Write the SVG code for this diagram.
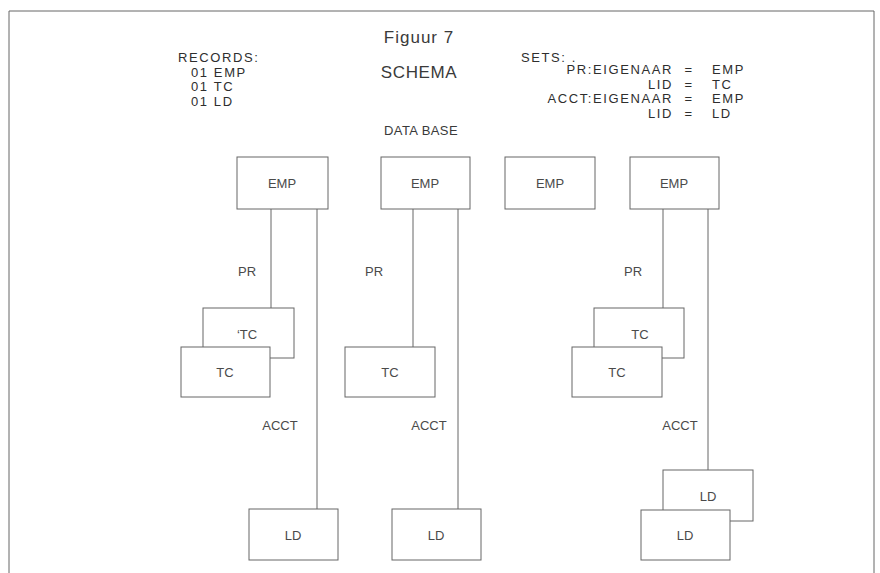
<svg xmlns="http://www.w3.org/2000/svg" width="880" height="573" viewBox="0 0 880 573">
<style>
text{font-family:"Liberation Sans",Arial,sans-serif;fill:#3a3a3a}
.t{font-size:13px}
.h{font-size:13px;letter-spacing:1.6px;fill:#2e2e2e}
.c{text-anchor:middle}
.r{text-anchor:end}
.box{fill:#fff;stroke:#666;stroke-width:1}
.ln{stroke:#666;stroke-width:1;fill:none}
.bl{fill:#4a4a4a}
</style>
<rect width="880" height="573" fill="#fff"/>
<path class="ln" d="M9,580 V11 H874 V580" stroke-width="1.5"/>
<g id="header">
<text x="419" y="43" class="c" font-size="17" letter-spacing="1">Figuur 7</text>
<text x="419" y="78" class="c" font-size="17" letter-spacing="0.6">SCHEMA</text>
<text x="421" y="135" class="c t" letter-spacing="0.4">DATA BASE</text>
<text x="178" y="62" class="h">RECORDS:</text>
<text x="191" y="76.5" class="h">01 EMP</text>
<text x="191" y="91" class="h">01 TC</text>
<text x="191" y="105.5" class="h">01 LD</text>
<text x="521" y="62" class="h">SETS: .</text>
<text x="673" y="74" class="h r">PR:EIGENAAR</text>
<text x="689" y="74" class="h c">=</text>
<text x="712" y="74" class="h">EMP</text>
<text x="673" y="88.5" class="h r">LID</text>
<text x="689" y="88.5" class="h c">=</text>
<text x="712" y="88.5" class="h">TC</text>
<text x="673" y="103" class="h r">ACCT:EIGENAAR</text>
<text x="689" y="103" class="h c">=</text>
<text x="712" y="103" class="h">EMP</text>
<text x="673" y="117.5" class="h r">LID</text>
<text x="689" y="117.5" class="h c">=</text>
<text x="712" y="117.5" class="h">LD</text>
</g>
<g id="connectors">
<line class="ln" x1="271" y1="209" x2="271" y2="308"/>
<line class="ln" x1="317" y1="209" x2="317" y2="509"/>
<line class="ln" x1="413" y1="209" x2="413" y2="347"/>
<line class="ln" x1="458" y1="209" x2="458" y2="509"/>
<line class="ln" x1="663" y1="209" x2="663" y2="308"/>
<line class="ln" x1="708" y1="209" x2="708" y2="470"/>
<text x="247" y="276" class="t c bl">PR</text>
<text x="374" y="276" class="t c bl">PR</text>
<text x="633" y="276" class="t c bl">PR</text>
<text x="280" y="430" class="t c bl">ACCT</text>
<text x="429" y="430" class="t c bl">ACCT</text>
<text x="680" y="430" class="t c bl">ACCT</text>
</g>
<g id="emp1"><rect class="box" x="237" y="157" width="91" height="52"/><text x="282" y="188" class="t c bl">EMP</text></g>
<g id="emp2"><rect class="box" x="381" y="157" width="89" height="52"/><text x="425" y="188" class="t c bl">EMP</text></g>
<g id="emp3"><rect class="box" x="505" y="157" width="90" height="52"/><text x="550" y="188" class="t c bl">EMP</text></g>
<g id="emp4"><rect class="box" x="630" y="157" width="89" height="52"/><text x="674" y="188" class="t c bl">EMP</text></g>
<g id="tc1b"><rect class="box" x="203" y="308" width="91" height="50"/><text x="247" y="339" class="t c bl">‘TC</text></g>
<g id="tc1"><rect class="box" x="181" y="347" width="89" height="50"/><text x="225" y="377" class="t c bl">TC</text></g>
<g id="tc2"><rect class="box" x="345" y="347" width="90" height="50"/><text x="390" y="377" class="t c bl">TC</text></g>
<g id="tc4b"><rect class="box" x="594" y="308" width="90" height="50"/><text x="640" y="339" class="t c bl">TC</text></g>
<g id="tc4"><rect class="box" x="572" y="347" width="90" height="50"/><text x="617" y="377" class="t c bl">TC</text></g>
<g id="ld1"><rect class="box" x="249" y="509" width="89" height="51"/><text x="293" y="540" class="t c bl">LD</text></g>
<g id="ld2"><rect class="box" x="392" y="509" width="89" height="51"/><text x="436" y="540" class="t c bl">LD</text></g>
<g id="ld4b"><rect class="box" x="663" y="470" width="90" height="51"/><text x="708" y="501" class="t c bl">LD</text></g>
<g id="ld4"><rect class="box" x="641" y="510" width="89" height="50"/><text x="685" y="540" class="t c bl">LD</text></g>
</svg>
